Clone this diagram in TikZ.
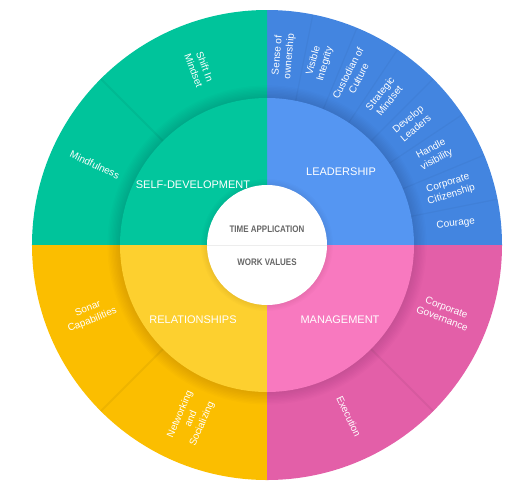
\documentclass[tikz,border=0pt]{standalone}
\usepackage{fontspec}
\setmainfont{Liberation Sans}
\newfontfamily\condfont[FakeStretch=0.84]{Liberation Sans}
\definecolor{gO}{HTML}{00C49B}
\definecolor{gI}{HTML}{02C69D}
\definecolor{bO}{HTML}{4385E0}
\definecolor{bI}{HTML}{5596F2}
\definecolor{pO}{HTML}{E35FA8}
\definecolor{pI}{HTML}{F879BF}
\definecolor{yO}{HTML}{FBBE00}
\definecolor{yI}{HTML}{FDD02F}
\definecolor{ctext}{HTML}{666666}
\begin{document}
\begin{tikzpicture}[x=1pt,y=1pt,
  outerlbl/.style={text=white, font=\fontsize{10}{12}\selectfont, align=center, inner sep=0pt},
  innerlbl/.style={text=white, font=\fontsize{11}{12}\selectfont, inner sep=0pt},
  centerlbl/.style={text=ctext, font=\condfont\fontsize{9.5}{10}\selectfont\bfseries, inner sep=0pt},
  divline/.style={black, opacity=0.035, line width=1.2pt},
  shade ring/.style={fill=black, fill opacity=0.01}]
\useasboundingbox (-267,-251) rectangle (251,245);
% outer ring quadrants
\fill[bO] (0,0) -- (0:235) arc[start angle=0,end angle=90,radius=235] -- cycle;
\fill[gO] (0,0) -- (90:235) arc[start angle=90,end angle=180,radius=235] -- cycle;
\fill[yO] (0,0) -- (180:235) arc[start angle=180,end angle=270,radius=235] -- cycle;
\fill[pO] (0,0) -- (270:235) arc[start angle=270,end angle=360,radius=235] -- cycle;
% faint dividers between outer segments
\foreach \a in {11.25,22.5,...,80} \draw[divline] (\a:147) -- (\a:235);
\foreach \a in {135,225,315} \draw[divline, opacity=0.05, line width=2pt] (\a:147) -- (\a:235);
% shadow of inner disc
\foreach \i in {0,...,9} \fill[shade ring] (0,0) circle[radius=147+1.4*\i];
% inner ring quadrants
\fill[bI] (0,0) -- (0:147) arc[start angle=0,end angle=90,radius=147] -- cycle;
\fill[gI] (0,0) -- (90:147) arc[start angle=90,end angle=180,radius=147] -- cycle;
\fill[yI] (0,0) -- (180:147) arc[start angle=180,end angle=270,radius=147] -- cycle;
\fill[pI] (0,0) -- (270:147) arc[start angle=270,end angle=360,radius=147] -- cycle;
% shadow of centre disc
\foreach \i in {0,...,5} \fill[shade ring] (0,0) circle[radius=60+1.2*\i];
% centre disc
\fill[white] (0,0) circle[radius=60];
\draw[black!7, line width=0.8pt] (-60,0) -- (60,0);
\node[centerlbl] (ta) at (0,16) {TIME APPLICATION};
\node[centerlbl] (wv) at (0,-17) {WORK VALUES};
% inner labels
\node[innerlbl] (sd) at (-74,60) {SELF-DEVELOPMENT};
\node[innerlbl] (ld) at (74,73) {LEADERSHIP};
\node[innerlbl] (rl) at (-74,-75) {RELATIONSHIPS};
\node[innerlbl] (mg) at (73,-75) {MANAGEMENT};
% outer labels: leadership
\node[outerlbl, rotate=85] (l1) at (85:190) {Sense of\\ownership};
\node[outerlbl, rotate=74] (l2) at (74:190) {Visible\\Integrity};
\node[outerlbl, rotate=63] (l3) at (63:190) {Custodian of\\Culture};
\node[outerlbl, rotate=51.5] (l4) at (51.5:189) {Strategic\\Mindset};
\node[outerlbl, rotate=40] (l5) at (40:189) {Develop\\Leaders};
\node[outerlbl, rotate=28.5] (l6) at (28.5:190) {Handle\\visibility};
\node[outerlbl, rotate=17] (l7) at (17:191) {Corporate\\Citizenship};
\node[outerlbl, rotate=6.5] (l8) at (6.5:190) {Courage};
% self-development
\node[outerlbl, rotate=-69] (s1) at (111:189) {Shift In\\Mindset};
\node[outerlbl, rotate=-25] (s2) at (155:190) {Mindfulness};
% relationships
\node[outerlbl, rotate=21.5] (r1) at (201.5:190) {Sonar\\Capabilities};
\node[outerlbl, rotate=66.5] (r2) at (246.5:190) {Networking\\and\\Socializing};
% management
\node[outerlbl, rotate=-21] (m1) at (-21:190) {Corporate\\Governance};
\node[outerlbl, rotate=-64.5] (m2) at (-64.5:190) {Execution};
\end{tikzpicture}
\end{document}
